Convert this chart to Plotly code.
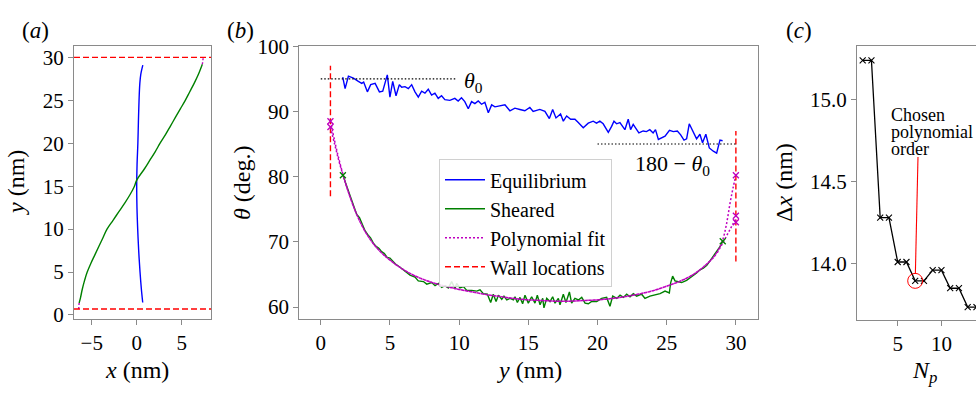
import plotly.graph_objects as go

# ---------------- data ----------------
# panel (a): droplet profiles x(y)
a_eq_y = [1.45, 3.0, 5.0, 7.5, 10.0, 12.5, 15.0, 17.5, 20.0, 22.5, 25.0, 27.0, 28.0, 29.1]
a_eq_x = [0.67, 0.52, 0.37, 0.22, 0.11, 0.03, 0.0, 0.04, 0.13, 0.19, 0.26, 0.35, 0.45, 0.68]
a_sh_y = [1.4, 2, 3, 4, 5, 6, 7, 8, 9, 10, 11, 12, 13, 14, 15, 15.7, 17, 18, 19, 20, 21, 22, 23,
          24, 25, 26, 27, 28, 29.2]
a_sh_x = [-6.4, -6.25, -6.05, -5.8, -5.5, -5.1, -4.65, -4.2, -3.75, -3.3, -2.65, -2.0, -1.35,
          -0.75, -0.25, 0.0, 0.85, 1.45, 2.05, 2.6, 3.2, 3.75, 4.3, 4.85, 5.4, 5.9, 6.4, 6.85, 7.3]
a_fit_top_y = [29.2, 30.0]
a_fit_top_x = [7.3, 7.4]
a_fit_bot_y = [1.4, 0.7]
a_fit_bot_x = [-6.4, -6.45]
wall_locations = [0.7, 30.0]

# panel (b): contact angle profiles
eq_y = [1.59, 1.76, 2.0, 2.36, 2.72, 2.96, 3.1, 3.37, 3.61, 3.93, 4.24, 4.48, 4.81, 5.0, 5.2,
        5.44, 5.68, 5.85, 6.09, 6.33, 6.57, 6.81, 7.05, 7.29, 7.53, 7.77, 8.01, 8.25, 8.49, 8.73,
        8.97, 9.33, 9.69, 9.93, 10.17, 10.41, 10.66, 10.9, 11.14, 11.38, 11.62, 11.86, 12.11,
        12.35, 12.59, 12.95, 13.31, 13.67, 14.03, 14.39, 14.75, 15.11, 15.35, 15.83, 16.2, 16.52,
        16.76, 17.0, 17.33, 17.53, 17.77, 18.06, 18.37, 18.61, 18.97, 19.33, 19.69, 19.93, 20.17,
        20.41, 20.78, 21.02, 21.19, 21.38, 21.62, 21.98, 22.22, 22.39, 22.58, 22.99, 23.3, 23.54,
        23.78, 24.02, 24.19, 24.4, 24.64, 24.88, 25.2, 25.48, 25.77, 26.01, 26.25, 26.44, 26.63,
        26.92, 27.16, 27.4, 27.59, 27.83, 28.08, 28.37, 28.61, 28.85, 29.04]
eq_theta = [95.25, 93.5, 95.4, 95.1, 94.6, 94.3, 94.5, 93.0, 94.1, 94.3, 93.0, 93.1, 95.6, 92.2,
            94.6, 92.4, 94.1, 93.7, 93.8, 93.5, 94.1, 93.0, 92.2, 93.1, 92.8, 93.4, 92.5, 92.8,
            92.0, 92.4, 91.8, 91.7, 92.0, 91.6, 92.1, 91.5, 90.4, 91.5, 91.2, 91.6, 91.1, 91.4,
            89.8, 91.0, 90.7, 90.9, 91.0, 90.1, 90.5, 90.3, 90.1, 90.6, 90.0, 90.3, 90.0, 88.9,
            90.3, 89.0, 89.6, 88.5, 89.3, 88.8, 88.8, 88.3, 87.5, 88.2, 88.5, 88.2, 88.5, 88.1,
            86.8, 87.7, 88.5, 88.1, 88.3, 87.2, 88.8, 87.2, 88.0, 86.7, 87.0, 86.9, 87.2, 86.7,
            87.2, 85.7, 86.0, 86.2, 87.1, 86.9, 87.0, 86.4, 85.6, 85.8, 88.1, 86.9, 85.8, 86.5,
            85.2, 86.5, 84.4, 83.9, 83.6, 85.6, 85.5]

sh_y = [1.6, 1.8, 2.0, 2.2, 2.4, 2.6, 2.8, 3.0, 3.2, 3.4, 3.6, 3.8, 4.0, 4.2, 4.4, 4.6, 4.8, 5.0,
        5.2, 5.4, 5.73, 6.21, 6.45, 6.81, 7.05, 7.42, 7.66, 8.02, 8.26, 8.5, 8.74, 8.98, 9.22,
        9.46, 9.7, 9.82, 10.06, 10.31, 10.55, 10.91, 11.27, 11.51, 11.75, 12.04, 12.28, 12.47,
        12.67, 12.84, 13.08, 13.24, 13.44, 13.68, 13.92, 14.04, 14.21, 14.4, 14.59, 14.76, 15.0,
        15.24, 15.48, 15.65, 15.85, 16.04, 16.13, 16.33, 16.57, 16.76, 16.93, 17.17, 17.29, 17.53,
        17.72, 17.97, 18.13, 18.37, 18.62, 18.86, 19.1, 19.34, 19.58, 19.94, 20.3, 20.66, 20.9,
        21.1, 21.39, 21.63, 21.87, 22.11, 22.35, 22.59, 22.83, 23.19, 23.43, 23.79, 24.15, 24.52,
        24.88, 25.19, 25.29, 25.43, 25.6, 25.84, 26.08, 26.44, 26.68, 26.92, 27.16, 27.41, 27.65,
        27.9, 28.1, 28.3, 28.5, 28.7, 28.9, 29.05]
sh_theta = [80.2, 79.0, 77.8, 76.5, 75.3, 74.2, 73.7, 72.8, 71.7, 71.1, 70.6, 69.8, 69.3, 69.0,
            68.5, 68.2, 67.6, 67.5, 67.0, 66.6, 66.1, 65.3, 64.9, 64.59, 64.01, 63.91, 63.52,
            63.76, 63.28, 63.62, 63.03, 63.28, 62.94, 63.91, 62.79, 63.62, 62.94, 63.13, 62.55,
            62.55, 62.45, 62.65, 62.06, 61.97, 60.7, 61.97, 60.85, 61.82, 61.19, 61.67, 61.09,
            61.33, 61.09, 61.58, 60.7, 61.48, 60.51, 61.82, 60.6, 61.58, 60.6, 61.82, 60.36, 61.33,
            59.88, 61.33, 60.85, 61.58, 60.6, 61.33, 60.36, 61.97, 60.7, 62.31, 60.6, 61.33, 61.09,
            61.48, 60.6, 60.51, 60.85, 60.85, 61.33, 61.48, 60.12, 61.67, 61.33, 61.82, 61.48,
            61.97, 61.58, 62.06, 61.67, 61.97, 61.33, 61.67, 61.82, 62.06, 62.45, 62.16, 63.76,
            64.74, 64.01, 63.91, 63.76, 64.1, 64.49, 64.74, 65.22, 65.71, 65.95, 66.4, 67.0, 67.6,
            68.1, 68.7, 69.4, 70.1]
sh_end_y = [1.6, 29.05]
sh_end_theta = [80.2, 70.1]

fit_y = [0.7, 1.0, 1.3, 1.6, 2.0, 2.5, 3.0, 3.5, 4.0, 4.5, 5.0, 6.0, 7.0, 8.0, 9.0, 10.0, 11.0,
         12.0, 13.0, 14.0, 15.0, 16.0, 17.0, 18.0, 19.0, 20.0, 21.0, 22.0, 23.0, 24.0, 25.0, 26.0,
         27.0, 28.0, 28.5, 29.0, 29.3, 29.6, 29.8, 30.0]
fit1_theta = [88.5, 85.5, 82.8, 80.4, 77.6, 74.7, 72.4, 70.6, 69.2, 68.1, 67.2, 65.7, 64.6, 63.8,
              63.2, 62.7, 62.3, 61.9, 61.6, 61.3, 61.1, 61.0, 60.9, 60.9, 61.0, 61.1, 61.3, 61.6,
              62.0, 62.5, 63.2, 64.0, 65.1, 66.8, 68.0, 70.0, 72.5, 76.2, 78.3, 80.2]
fit2_theta = [87.6, 85.0, 82.5, 80.3, 77.6, 74.7, 72.4, 70.6, 69.2, 68.1, 67.2, 65.7, 64.6, 63.8,
              63.2, 62.7, 62.3, 61.9, 61.6, 61.3, 61.1, 61.0, 60.9, 60.9, 61.0, 61.1, 61.3, 61.6,
              62.0, 62.5, 63.2, 64.0, 65.1, 66.8, 67.9, 69.6, 70.8, 72.0, 72.8, 73.5]
wall_pts_y = [0.7, 0.7, 30.0, 30.0, 30.0]
wall_pts_theta = [88.5, 87.6, 80.2, 74.0, 73.0]
wall_seg_lo = [77.0, 67.0]
wall_seg_hi = [97.0, 87.0]
theta0_y = [0.0, 9.8]
theta0_val = [95.0, 95.0]
supp_y = [20.0, 30.0]
supp_val = [85.0, 85.0]

# panel (c): error vs polynomial order
Np = [1, 2, 3, 4, 5, 6, 7, 8, 9, 10, 11, 12, 13, 14]
dx = [15.24, 15.24, 14.28, 14.28, 14.01, 14.01, 13.895, 13.895, 13.96, 13.96, 13.85, 13.85,
      13.735, 13.735]
chosen_Np = 7
chosen_dx = 13.895

# ---------------- styling ----------------
W, H = 976, 398
SERIF = "Liberation Serif, Times New Roman, Times, serif"
SPINE = "#8a8a8a"
BLUE, GREEN, MAG, RED = "#0000ff", "#008000", "#bf00bf", "#ff0000"


def px2x(p):
    return p / W


def px2y(p):
    return 1 - p / H


fig = go.Figure()

# ---- panel (a)
fig.add_trace(go.Scatter(x=a_eq_x, y=a_eq_y, mode="lines", line=dict(color=BLUE, width=1.4, shape="spline"),
                         xaxis="x", yaxis="y", showlegend=False))
fig.add_trace(go.Scatter(x=a_sh_x, y=a_sh_y, mode="lines", line=dict(color=GREEN, width=1.4, shape="spline"),
                         xaxis="x", yaxis="y", showlegend=False))
for xs, ys in [(a_fit_top_x, a_fit_top_y), (a_fit_bot_x, a_fit_bot_y)]:
    fig.add_trace(go.Scatter(x=xs, y=ys, mode="lines", line=dict(color=MAG, width=1.4, dash="2px,2px"),
                             xaxis="x", yaxis="y", showlegend=False))

# ---- panel (b), legend order
fig.add_trace(go.Scatter(x=eq_y, y=eq_theta, mode="lines", name="Equilibrium",
                         line=dict(color=BLUE, width=1.4), xaxis="x2", yaxis="y2"))
fig.add_trace(go.Scatter(x=sh_y, y=sh_theta, mode="lines", name="Sheared",
                         line=dict(color=GREEN, width=1.4), xaxis="x2", yaxis="y2"))
fig.add_trace(go.Scatter(x=fit_y, y=fit1_theta, mode="lines", name="Polynomial fit",
                         line=dict(color=MAG, width=1.5, dash="2px,2px", shape="spline"),
                         xaxis="x2", yaxis="y2"))
fig.add_trace(go.Scatter(x=[wall_locations[0], wall_locations[0]], y=[wall_seg_lo[0], wall_seg_hi[0]],
                         mode="lines", name="Wall locations",
                         line=dict(color=RED, width=1.4, dash="6px,3px"), xaxis="x2", yaxis="y2"))
fig.add_trace(go.Scatter(x=[wall_locations[1], wall_locations[1]], y=[wall_seg_lo[1], wall_seg_hi[1]],
                         mode="lines", showlegend=False,
                         line=dict(color=RED, width=1.4, dash="6px,3px"), xaxis="x2", yaxis="y2"))
fig.add_trace(go.Scatter(x=fit_y, y=fit2_theta, mode="lines", showlegend=False,
                         line=dict(color=MAG, width=1.5, dash="2px,2px", shape="spline"),
                         xaxis="x2", yaxis="y2"))
fig.add_trace(go.Scatter(x=sh_end_y, y=sh_end_theta, mode="markers", showlegend=False,
                         marker=dict(symbol="x-thin", size=6, line=dict(color=GREEN, width=1.3)),
                         xaxis="x2", yaxis="y2"))
fig.add_trace(go.Scatter(x=wall_pts_y, y=wall_pts_theta, mode="markers", showlegend=False,
                         marker=dict(symbol="x-thin", size=6, line=dict(color=MAG, width=1.3)),
                         xaxis="x2", yaxis="y2"))
for xs, ys in [(theta0_y, theta0_val), (supp_y, supp_val)]:
    fig.add_trace(go.Scatter(x=xs, y=ys, mode="lines", showlegend=False,
                             line=dict(color="black", width=1.2, dash="1.5px,2px"),
                             xaxis="x2", yaxis="y2"))

# ---- panel (c)
fig.add_trace(go.Scatter(x=Np, y=dx, mode="lines+markers", showlegend=False,
                         line=dict(color="black", width=1.3),
                         marker=dict(symbol="x-thin", size=6, line=dict(color="black", width=1.1)),
                         xaxis="x3", yaxis="y3"))

# wall lines in panel (a)
shapes = []
for w in wall_locations:
    shapes.append(dict(type="line", xref="x domain", yref="y", x0=0, x1=1, y0=w, y1=w,
                       line=dict(color=RED, width=1.4, dash="6px,3px")))
# chosen order marker in (c)
shapes.append(dict(type="circle", xref="x3", yref="y3", xsizemode="pixel", ysizemode="pixel",
                   xanchor=chosen_Np, yanchor=chosen_dx, x0=-7.5, x1=7.5, y0=-7.5, y1=7.5,
                   line=dict(color=RED, width=1)))
shapes.append(dict(type="line", xref="x3", yref="y3", x0=chosen_Np + 0.02, y0=chosen_dx + 0.042,
                   x1=chosen_Np + 0.32, y1=14.65, line=dict(color=RED, width=1.1)))

tickfont = dict(family=SERIF, size=21, color="black")


def ax(domain, rng, tickvals, anchor, ticktext=None, mirror=True):
    d = dict(domain=domain, range=rng, anchor=anchor, showline=True, linecolor=SPINE, linewidth=1,
             mirror=mirror, ticks="outside", ticklen=5, tickwidth=1, tickcolor=SPINE,
             showgrid=False, zeroline=False, tickfont=tickfont, tickvals=tickvals)
    if ticktext is not None:
        d["ticktext"] = ticktext
    return d


layout = dict(
    width=W, height=H, margin=dict(l=0, r=0, t=0, b=0),
    paper_bgcolor="white", plot_bgcolor="white",
    xaxis=ax([px2x(74), px2x(211)], [-6.97, 8.26], [-5, 0, 5], "y"),
    yaxis=ax([px2y(323), px2y(36)], [-0.44, 31.3], [0, 5, 10, 15, 20, 25, 30], "x"),
    xaxis2=ax([px2x(299.3), px2x(758.3)], [-1.55, 31.62], [0, 5, 10, 15, 20, 25, 30], "y2"),
    yaxis2=ax([px2y(323.3), px2y(36)], [58.16, 100], [60, 70, 80, 90, 100], "x2"),
    xaxis3=ax([px2x(857), 1.0], [0.35, 13.95], [5, 10], "y3"),
    yaxis3=ax([px2y(324), px2y(36)], [13.658, 15.326], [14.0, 14.5, 15.0], "x3",
              ["14.0", "14.5", "15.0"], mirror=False),
    showlegend=True,
    legend=dict(x=px2x(439), y=px2y(155), xanchor="left", yanchor="top",
                bgcolor="rgba(255,255,255,0.85)", bordercolor="#d0d0d0", borderwidth=1,
                font=dict(family=SERIF, size=20, color="black"), tracegroupgap=0,
                itemwidth=40),
    shapes=shapes,
)
fig.update_layout(**layout)

ann = []


def label(text, x, y, size=23, angle=0, xanchor="center", yanchor="middle"):
    ann.append(dict(text=text, x=px2x(x), y=px2y(y), xref="paper", yref="paper", showarrow=False,
                    textangle=angle, xanchor=xanchor, yanchor=yanchor,
                    font=dict(family=SERIF, size=size, color="black")))


label("(<i>a</i>)", 35, 19, 23)
label("(<i>b</i>)", 240, 19, 23)
label("(<i>c</i>)", 799, 19, 23)
label("<i>y</i> (nm)", 16, 180, 24, -90)
label("<i>x</i> (nm)", 137, 377, 24)
label("<i>θ</i> (deg.)", 242, 180, 24, -90)
label("<i>y</i> (nm)", 529, 377, 24)
label("Δ<i>x</i> (nm)", 784, 180, 24, -90)
label("<i>N<sub>p</sub></i>", 924, 379, 24)
label("<i>θ</i><sub>0</sub>", 473, 74, 22)
label("180 − <i>θ</i><sub>0</sub>", 672, 161, 22)
label("Chosen", 889, 108, 18, xanchor="left")
label("polynomial", 889, 126, 18, xanchor="left")
label("order", 889, 144, 18, xanchor="left")
fig.update_layout(annotations=ann)

fig.write_html("out.html")
